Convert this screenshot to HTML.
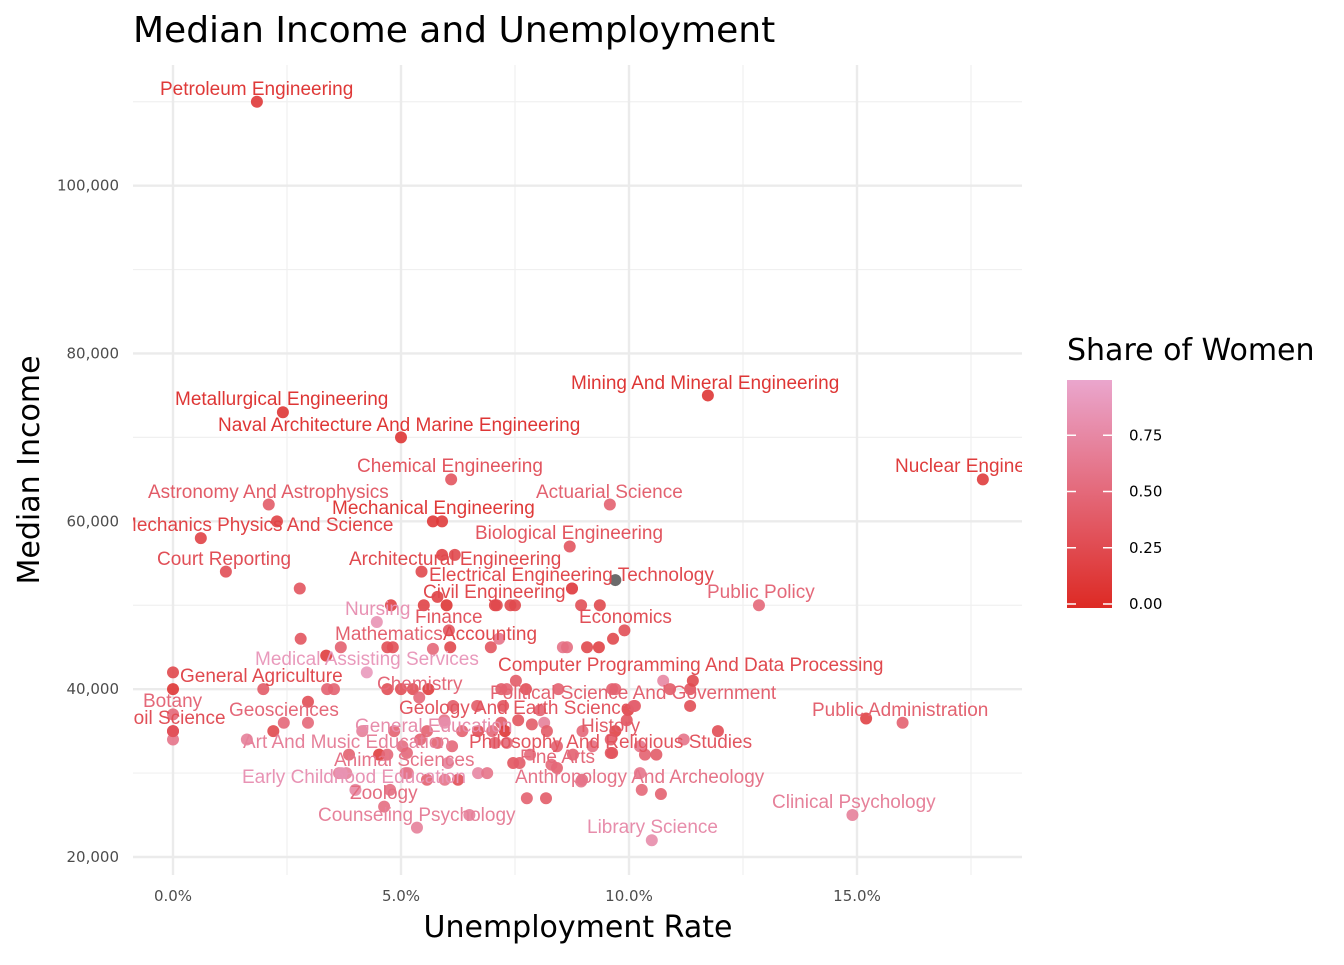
<!DOCTYPE html>
<html><head><meta charset="utf-8"><style>
body{margin:0;background:#fff;font-family:"Liberation Sans",sans-serif;}
svg text{font-family:"Liberation Sans","DejaVu Sans",sans-serif;}
svg text.dv{font-family:"DejaVu Sans","Liberation Sans",sans-serif;}
</style></head><body>
<svg id="chart" width="1344" height="960" xmlns="http://www.w3.org/2000/svg">
<defs>
<clipPath id="panel"><rect x="133" y="65" width="889" height="810"/></clipPath>
<linearGradient id="grad" x1="0" y1="1" x2="0" y2="0">
<stop offset="0" stop-color="#dd2a24"/><stop offset="1" stop-color="#eaa6cd"/>
</linearGradient>
</defs>
<text class="dv" x="133" y="42" font-size="36" fill="#000">Median Income and Unemployment</text>
<g id="grid"></g>
<g id="marks" clip-path="url(#panel)"></g>
<g id="axes"></g>
<text class="dv" x="578" y="937" font-size="30" text-anchor="middle" fill="#000">Unemployment Rate</text>
<text class="dv" transform="translate(39,470) rotate(-90)" font-size="30" text-anchor="middle" fill="#000">Median Income</text>
<g>
<text class="dv" x="1067" y="360" font-size="30" fill="#000">Share of Women</text>
<rect x="1067" y="380" width="45" height="228" fill="url(#grad)"/>
<g id="legticks"></g>
</g>
</svg>
<script>
const xTicks=[0,5,10,15];
const xTickLabels=["0.0%","5.0%","10.0%","15.0%"];
const yTicks=[20000,40000,60000,80000,100000];
const yTickLabels=["20,000","40,000","60,000","80,000","100,000"];
const legendTicks=[0,0.25,0.5,0.75];
const legendTickLabels=["0.00","0.25","0.50","0.75"];
const labelNames=["Petroleum Engineering","Metallurgical Engineering","Naval Architecture And Marine Engineering","Mining And Mineral Engineering","Nuclear Engineering","Chemical Engineering","Astronomy And Astrophysics","Actuarial Science","Mechanical Engineering","Mechanics Physics And Science","Biological Engineering","Court Reporting","Architectural Engineering","Electrical Engineering Technology","Civil Engineering","Public Policy","Nursing","Finance","Economics","Mathematics","Accounting","Medical Assisting Services","Computer Programming And Data Processing","General Agriculture","Chemistry","Political Science And Government","Botany","Geology And Earth Science","Geosciences","Soil Science","Public Administration","General Education","History","Art And Music Education","Philosophy And Religious Studies","Fine Arts","Animal Sciences","Anthropology And Archeology","Early Childhood Education","Zoology","Clinical Psychology","Counseling Psychology","Library Science"];
const labelUnemp=[1.84,2.41,5.0,11.73,17.76,6.1,2.1,9.58,5.7,2.28,8.7,1.16,6.18,8.75,7.1,12.85,4.47,6.05,9.9,3.68,6.08,4.25,11.4,0,5.4,10.1,0,9.95,2.43,0,16.0,5.96,9.6,1.62,9.6,8.3,5.1,8.95,3.7,4.76,14.9,6.5,10.5];
const labelIncome=[110000,73000,70000,75000,65000,65000,62000,62000,60000,60000,57000,54000,56000,52000,50000,50000,48000,47000,47000,45000,45000,42000,41000,42000,39000,38000,37000,36300,36000,35000,36000,36000,34000,34000,32400,31000,30000,29000,30000,28000,25000,25000,22000];
const labelShare=[0.12,0.1,0.1,0.1,0.15,0.35,0.4,0.45,0.12,0.2,0.35,0.3,0.25,0.25,0.25,0.5,0.85,0.35,0.3,0.45,0.25,0.9,0.25,0.25,0.5,0.45,0.5,0.35,0.5,0.3,0.45,0.8,0.4,0.7,0.35,0.5,0.6,0.6,0.85,0.55,0.7,0.7,0.8];
// repelled label placement (left edge / baseline in px), layout only
const labelLeft=[160,175,218,571,895,357,148,536,332,121,475,157,349,429,423,707,345,415,579,335,443,255,498,180,377,490,143,399,229,121,812,355,581,243,469,520,334,515,242,350,772,318,587];
const labelBase=[95,405,431,389,472,472,498,498,514,531,539,565,565,581,598,598,615,623,623,640,640,665,671,682,690,699,707,714,716,724,716,732,732,748,748,763,766,783,783,799,808,821,833];
const otherUnemp=[5.9,0.61,2.78,2.8,3.36,1.98,2.96,2.96,2.2,3.38,3.53,4.78,5.5,4.7,4.82,4.7,5.0,5.26,4.15,4.85,3.86,4.52,4.7,3.64,3.8,4.0,4.63,5.35,5.8,6.0,7.06,7.4,7.5,8.75,8.95,9.36,5.7,6.97,7.15,8.55,8.64,9.08,9.34,9.65,10.75,10.9,11.34,11.34,7.52,7.2,7.32,7.74,8.45,9.63,9.7,5.6,6.14,6.67,7.24,8.05,10.13,9.98,5.95,7.2,7.57,7.87,8.14,8.2,8.98,9.7,11.95,11.2,5.57,6.34,6.69,7.28,7.0,5.42,5.8,6.12,5.03,5.13,7.32,7.06,7.83,8.42,8.77,9.2,9.63,10.35,10.6,10.24,7.46,7.6,8.42,5.15,5.57,5.96,6.25,6.69,6.89,6.03,8.97,10.24,10.28,10.7,7.76,8.18,15.2,5.9,5.45,0,0,0];
const otherIncome=[60000,58000,52000,46000,44000,40000,38500,36000,35000,40000,40000,50000,50000,45000,45000,40000,40000,40000,35000,35000,32200,32200,32200,30000,30000,28000,26000,23500,51000,50000,50000,50000,50000,52000,50000,50000,44800,45000,46000,45000,45000,45000,45000,46000,41000,40000,40000,38000,41000,40000,40000,40000,40000,40000,40000,40000,38000,38000,38000,37500,38000,37500,36300,36000,36300,35800,36000,35000,35000,35000,35000,34000,35000,35000,35000,35000,35000,34000,33600,33200,33200,32400,33600,33600,32200,33200,32200,33200,32400,32200,32200,33200,31200,31200,30600,30000,29200,29200,29200,30000,30000,31200,29200,30000,28000,27500,27000,27000,36500,56000,54000,40000,35000,34000];
const otherShare=[0.15,0.2,0.35,0.35,0.15,0.4,0.3,0.5,0.25,0.45,0.45,0.2,0.2,0.3,0.3,0.3,0.3,0.3,0.7,0.45,0.45,0.15,0.5,0.7,0.7,0.75,0.55,0.7,0.2,0.1,0.2,0.25,0.25,0.25,0.3,0.25,0.5,0.35,0.6,0.6,0.55,0.25,0.2,0.25,0.75,0.4,0.35,0.3,0.4,0.4,0.45,0.3,0.45,0.45,0.45,0.15,0.4,0.4,0.35,0.45,0.35,0.2,0.6,0.4,0.35,0.4,0.7,0.4,0.5,0.2,0.3,0.6,0.45,0.45,0.3,0.1,0.5,0.45,0.45,0.5,0.55,0.5,0.5,0.45,0.5,0.45,0.45,0.55,0.3,0.45,0.4,0.6,0.35,0.4,0.45,0.6,0.45,0.6,0.3,0.75,0.6,0.7,0.55,0.6,0.5,0.45,0.45,0.4,0.2,0.2,0.25,0.1,0.4,0.6];
const naUnemp=[9.7], naIncome=[53000];

const NS="http://www.w3.org/2000/svg";
const X0=133,X1=1022,Y0=65,Y1=875;
function xs(u){return 173+u*45.6;}
function ys(v){return 857-(v-20000)*0.008392;}
function col(s){const a=[0xdd,0x2a,0x24],b=[0xea,0xa6,0xcd];return "rgb("+a.map((c,i)=>Math.round(c+(b[i]-c)*s)).join(",")+")";}
function mk(tag,attrs,parent){const e=document.createElementNS(NS,tag);for(const k in attrs)e.setAttribute(k,attrs[k]);parent.appendChild(e);return e;}
const grid=document.getElementById('grid'),marks=document.getElementById('marks'),axes=document.getElementById('axes');
[2.5,7.5,12.5,17.5].forEach(u=>{const l=mk('line',{x1:xs(u),x2:xs(u),y1:Y0,y2:Y1,stroke:'#f0f0f0','stroke-width':1.2},grid);

});
[30000,50000,70000,90000,110000].forEach(v=>{const l=mk('line',{x1:X0,x2:X1,y1:ys(v),y2:ys(v),stroke:'#f0f0f0','stroke-width':1.2},grid);

});
xTicks.forEach((u,i)=>{const l=mk('line',{x1:xs(u),x2:xs(u),y1:Y0,y2:Y1,stroke:'#ebebeb','stroke-width':2.4},grid);


const t=mk('text',{class:'dv',x:xs(u),y:901,'font-size':15,'text-anchor':'middle',fill:'#4d4d4d'},axes);t.textContent=xTickLabels[i];

});
yTicks.forEach((v,i)=>{const l=mk('line',{x1:X0,x2:X1,y1:ys(v),y2:ys(v),stroke:'#ebebeb','stroke-width':2.4},grid);


const t=mk('text',{class:'dv',x:119,y:ys(v)+5,'font-size':15,'text-anchor':'end',fill:'#4d4d4d'},axes);t.textContent=yTickLabels[i];

});
otherUnemp.forEach((u,i)=>{const c=mk('circle',{cx:xs(u),cy:ys(otherIncome[i]),r:6,fill:col(otherShare[i]),'fill-opacity':0.9},marks);

});
naUnemp.forEach((u,i)=>{const c=mk('circle',{cx:xs(u),cy:ys(naIncome[i]),r:6,fill:'#6b6b6b'},marks);

});
labelUnemp.forEach((u,i)=>{const c=mk('circle',{cx:xs(u),cy:ys(labelIncome[i]),r:6,fill:col(labelShare[i]),'fill-opacity':0.9},marks);

});
labelNames.forEach((n,i)=>{const t=mk('text',{x:labelLeft[i],y:labelBase[i],'font-size':19,fill:col(labelShare[i])},marks);t.textContent=n;

});
const lg=document.getElementById('legticks');
legendTicks.forEach((s,i)=>{const y=604-s*225;
mk('line',{x1:1067,x2:1076,y1:y,y2:y,stroke:'#fff','stroke-width':1.5},lg);
mk('line',{x1:1103,x2:1112,y1:y,y2:y,stroke:'#fff','stroke-width':1.5},lg);
const t=mk('text',{class:'dv',x:1129,y:y+5,'font-size':15,fill:'#000'},lg);t.textContent=legendTickLabels[i];

});
</script>
</body></html>
